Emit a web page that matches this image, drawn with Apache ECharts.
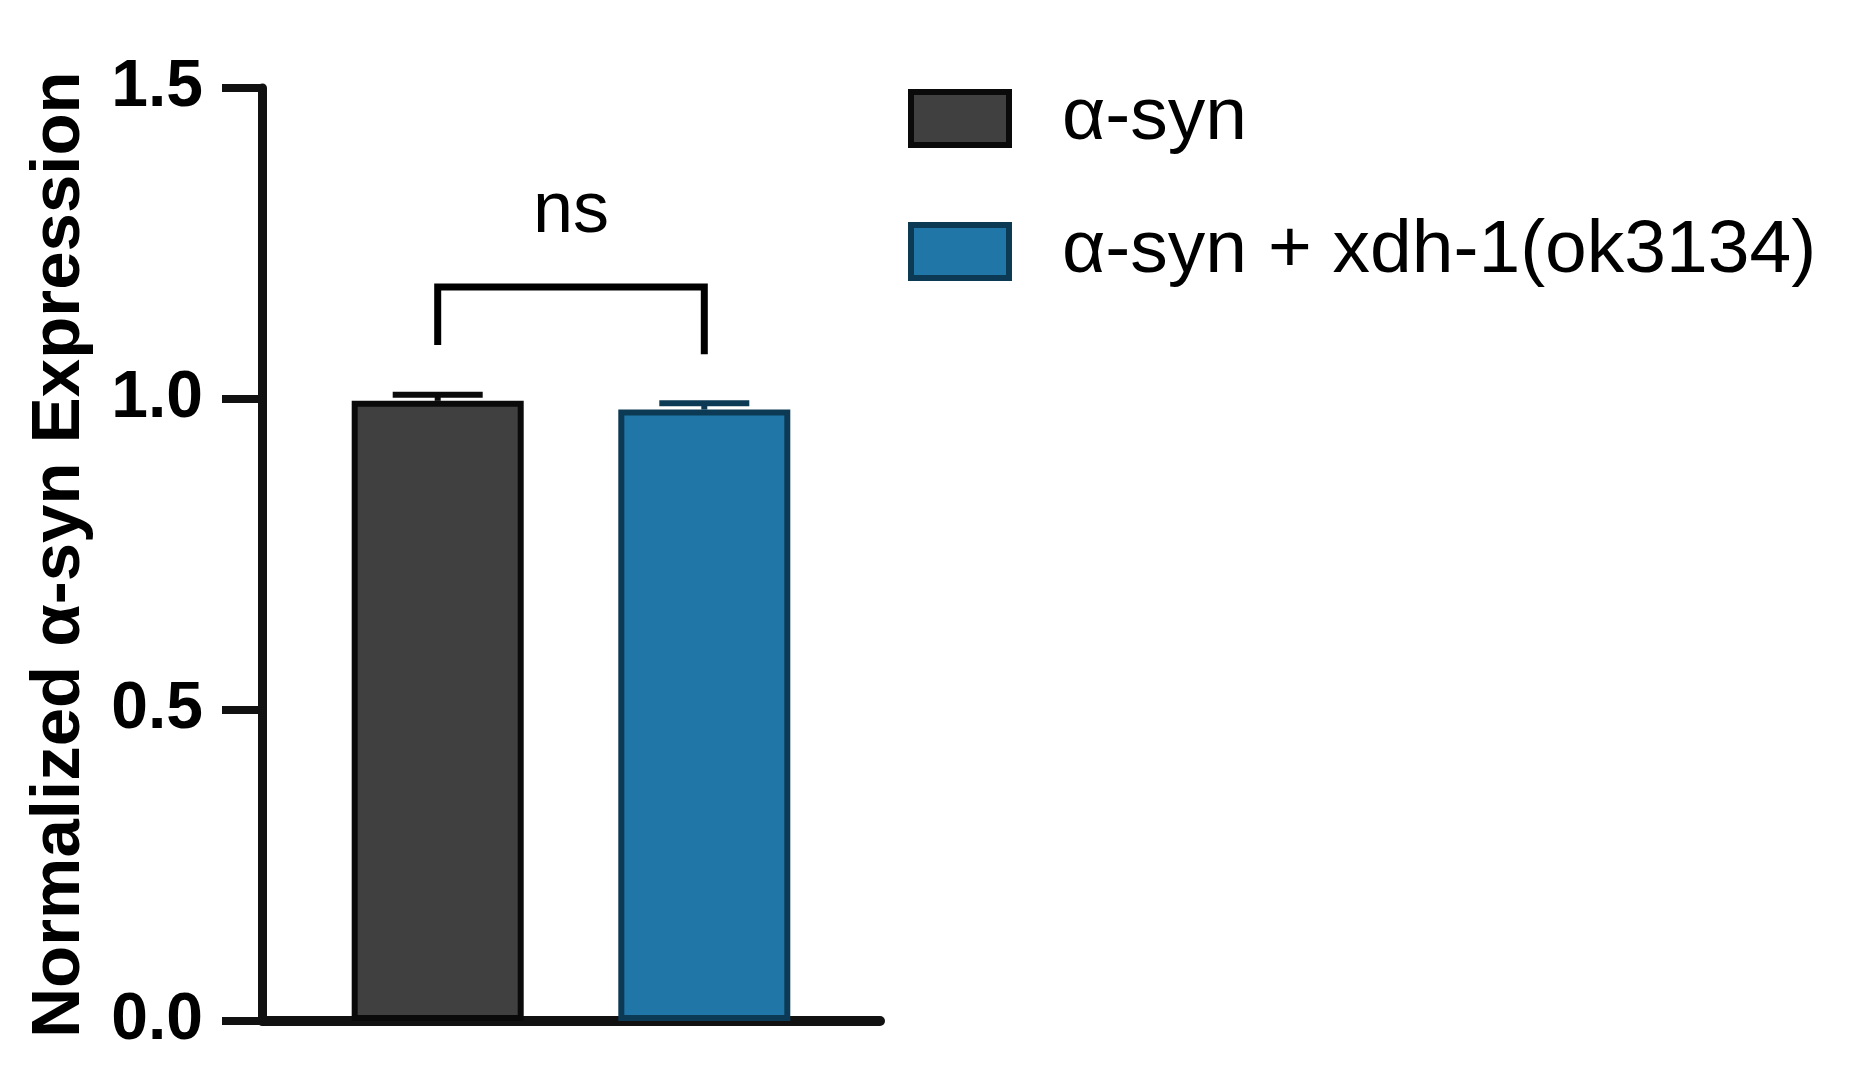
<!DOCTYPE html>
<html>
<head>
<meta charset="utf-8">
<script src="https://cdn.jsdelivr.net/npm/echarts@6/dist/echarts.min.js"></script>
<style>
html,body{margin:0;padding:0;background:#fff;}
#main{width:1851px;height:1078px;}
</style>
</head>
<body>
<div id="main"></div>
<script>
var chart = echarts.init(document.getElementById('main'));

// data
var seriesNames = ['α-syn', 'α-syn + xdh-1(ok3134)'];
var means = [0.997, 0.983];
var errors = [0.010, 0.010];
var barColors = ['#404040', '#1f76a7'];
var borderColors = ['#0a0a0a', '#0c3a55'];
var yTicks = [0, 0.5, 1.0, 1.5];
var bracketTop = 1.18;
var bracketLegs = [1.087, 1.072];
var sigLabel = 'ns';
var sigLabelY = 1.30;

var BAR_W = 172, BAR_GAP = '55%';
var font = "'Liberation Sans', Arial, Helvetica, sans-serif";

function barCenters(api) {
    var lay = api.barLayout({ barWidth: BAR_W, barGap: BAR_GAP, count: 2 });
    return lay.map(function (l) { return l.offsetCenter; });
}

var barSeries = seriesNames.map(function (name, i) {
    return {
        name: name,
        type: 'bar',
        barWidth: BAR_W,
        barGap: BAR_GAP,
        data: [means[i]],
        itemStyle: {
            color: barColors[i],
            borderColor: borderColors[i],
            borderWidth: 6
        }
    };
});

var errSeries = {
    type: 'custom',
    silent: true,
    z: 5,
    data: means.map(function (m, i) { return [0, m, errors[i], i]; }),
    renderItem: function (params, api) {
        var i = api.value(3);
        var off = barCenters(api)[i];
        var lo = api.coord([0, api.value(1)]);
        var hi = api.coord([0, api.value(1) + api.value(2)]);
        var x = lo[0] + off;
        var style = { stroke: borderColors[i], lineWidth: 6 };
        return {
            type: 'group',
            children: [
                { type: 'line', shape: { x1: x, y1: lo[1], x2: x, y2: hi[1] }, style: style },
                { type: 'line', shape: { x1: x - 45, y1: hi[1], x2: x + 45, y2: hi[1] }, style: style }
            ]
        };
    }
};

var sigSeries = {
    type: 'custom',
    silent: true,
    z: 6,
    data: [[0, bracketTop]],
    renderItem: function (params, api) {
        var c = barCenters(api);
        var top = api.coord([0, bracketTop]);
        var l0 = api.coord([0, bracketLegs[0]]);
        var l1 = api.coord([0, bracketLegs[1]]);
        var t = api.coord([0, sigLabelY]);
        var xl = top[0] + c[0], xr = top[0] + c[1];
        return {
            type: 'group',
            children: [
                {
                    type: 'polyline',
                    shape: { points: [[xl, l0[1]], [xl, top[1]], [xr, top[1]], [xr, l1[1]]] },
                    style: { stroke: '#000', lineWidth: 7, fill: null }
                },
                {
                    type: 'text',
                    style: {
                        text: sigLabel, x: (xl + xr) / 2, y: t[1],
                        align: 'center', verticalAlign: 'middle',
                        font: '72px ' + font, fill: '#000'
                    }
                }
            ]
        };
    }
};

var option = {
    animation: false,
    backgroundColor: '#fff',
    textStyle: { fontFamily: font },
    grid: { left: 262, right: 971, top: 88, bottom: 57, containLabel: false },
    legend: {
        orient: 'vertical',
        left: 903,
        top: 76,
        itemWidth: 98,
        itemHeight: 53,
        itemGap: 58,
        icon: 'rect',
        data: seriesNames,
        itemStyle: { borderWidth: 6 },
        textStyle: {
            fontSize: 75,
            color: '#000',
            fontFamily: font,
            lineHeight: 60,
            padding: [0, 0, 0, 48]
        }
    },
    xAxis: {
        type: 'category',
        data: [''],
        axisLine: { lineStyle: { color: '#111', width: 10 } },
        axisTick: { show: false },
        axisLabel: { show: false }
    },
    yAxis: {
        type: 'value',
        min: yTicks[0],
        max: yTicks[yTicks.length - 1],
        interval: 0.5,
        splitLine: { show: false },
        axisLine: { show: true, lineStyle: { color: '#111', width: 9 } },
        axisTick: { show: true, length: 40, lineStyle: { color: '#111', width: 8 } },
        axisLabel: {
            margin: 59,
            fontSize: 66,
            fontWeight: 'bold',
            color: '#000',
            fontFamily: font,
            formatter: function (v) { return v.toFixed(1); }
        },
        name: 'Normalized α-syn Expression',
        nameLocation: 'middle',
        nameRotate: 90,
        nameGap: 168,
        nameTextStyle: { fontSize: 69, fontWeight: 'bold', color: '#000', fontFamily: font }
    },
    series: barSeries.concat([errSeries, sigSeries])
};

chart.setOption(option);
</script>
</body>
</html>
